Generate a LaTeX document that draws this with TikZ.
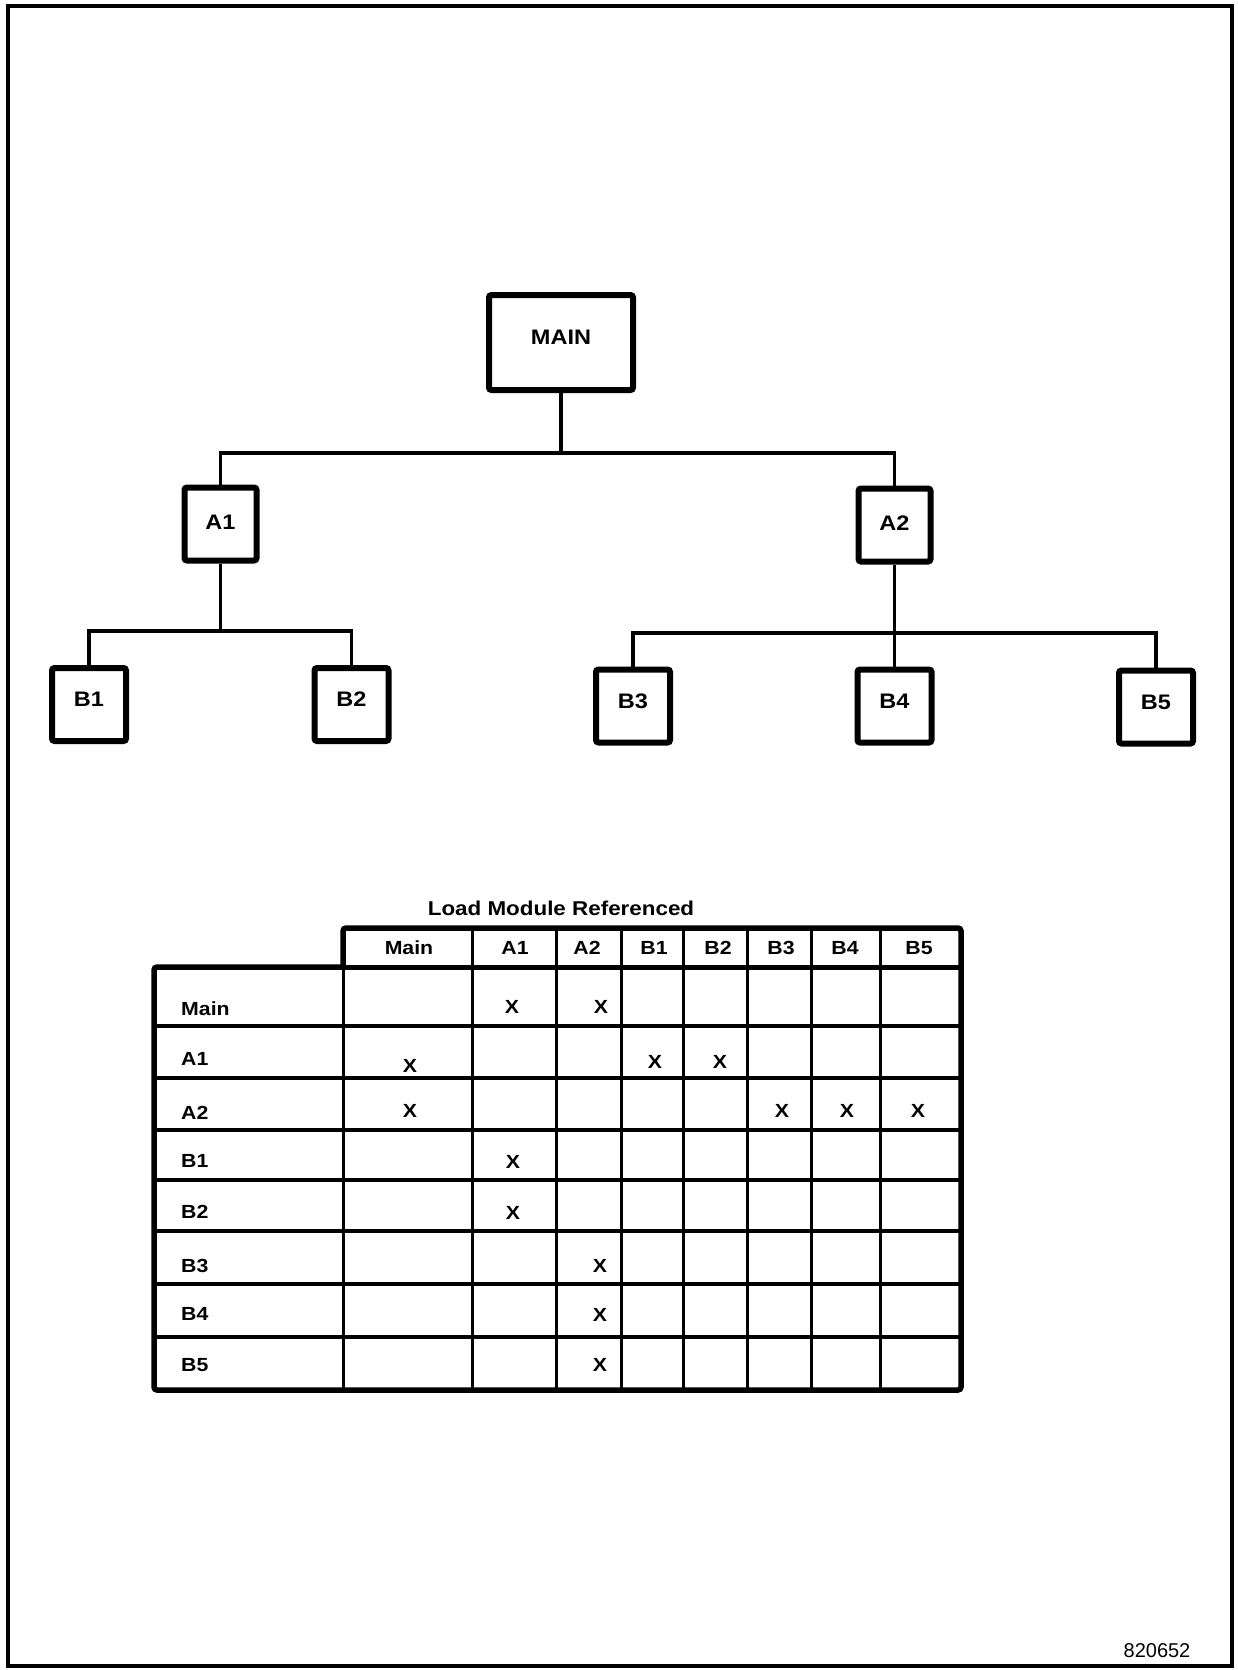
\documentclass[tikz,border=0pt]{standalone}
\usepackage{fontspec}
\setmainfont{Liberation Sans}
\newfontfamily\lblfont{Liberation Sans}[FakeStretch=1.12]
\begin{document}
\begin{tikzpicture}[x=1pt,y=-1pt,
  modbox/.style={draw, line width=6pt, rounded corners=2.5pt, inner sep=0pt,
    minimum width=72pt, minimum height=73pt, text depth=10pt,
    font=\lblfont\bfseries\fontsize{21}{21}\selectfont},
  midbox/.style={modbox, text depth=4pt},
  leafbox/.style={modbox, minimum width=74pt, minimum height=73pt},
  link/.style={line width=3.5pt},
  tcell/.style={inner sep=0pt, font=\lblfont\bfseries\fontsize{19}{19}\selectfont},
  outline/.style={line width=5.5pt, rounded corners=3pt},
  rowrule/.style={line width=4pt},
  colrule/.style={line width=3pt}]
\useasboundingbox (0,0) rectangle (1237,1670);

% page frame
\draw[line width=3.5pt] (8,6) rectangle (1232,1666);

% ---------- module tree ----------
\node[modbox, minimum width=144pt, minimum height=95pt] (MAIN) at (561,342.5) {MAIN};
\node[midbox] (A1) at (220.5,524) {A1};
\node[midbox] (A2) at (894.5,525) {A2};
\node[leafbox] (B1) at (89,704.5) {B1};
\node[leafbox] (B2) at (351.5,704.5) {B2};
\node[leafbox] (B3) at (633,706) {B3};
\node[leafbox] (B4) at (894.5,706) {B4};
\node[leafbox] (B5) at (1156,707) {B5};

\coordinate (j0) at (MAIN.south |- 0,453);
\coordinate (j1) at (A1.south |- 0,631);
\coordinate (j2) at (A2.south |- 0,633);

\draw[link] (MAIN.south) -- (j0);
\draw[link] (A1.north) |- (j0) -| (A2.north);
\draw[link] (A1.south) -- (j1);
\draw[link] (B1.north) |- (j1) -| (B2.north);
\draw[link] (A2.south) -- (B4.north);
\draw[link] (B3.north) |- (j2) -| (B5.north);

% ---------- reference table ----------
\node[tcell, font=\lblfont\bfseries\fontsize{20}{20}\selectfont] (title) at (561,908) {Load Module Referenced};

% row rules
\foreach \ry in {1026,1078,1130,1180,1231,1284,1337}
  \draw[rowrule] (154,\ry) -- (961,\ry);
% column rules
\draw[colrule] (343,967) -- (343,1390);
\foreach \cx in {472,556,621,683,747,811,880}
  \draw[colrule] (\cx,928) -- (\cx,1390);
% header bottom / body top
\draw[line width=5pt] (154,967) -- (961,967);
% outer outline
\draw[outline] (343,967) -- (343,928) -- (961,928) -- (961,1390) -- (154,1390) -- (154,967) -- (343,967);

% column headings
\foreach \lab/\px in {Main/409, A1/515, A2/587, B1/654, B2/718, B3/781, B4/845, B5/919}
  \node[tcell] (col\lab) at (\px,948) {\lab};
% row headings
\foreach \lab/\py in {Main/1009, A1/1059, A2/1113, B1/1161, B2/1212, B3/1266, B4/1314, B5/1365}
  \node[tcell, anchor=west] (row\lab) at (181,\py) {\lab};
% reference marks
\foreach \px/\py [count=\i] in {512/1007, 601/1007,
    410/1066, 655/1062, 720/1062,
    410/1111, 782/1111, 847/1111, 918/1111,
    513/1162, 513/1213, 600/1266, 600/1315, 600/1365}
  \node[tcell] (mark\i) at (\px,\py) {X};

% figure number
\node[inner sep=0pt, font=\fontsize{20}{20}\selectfont] (fignum) at (1157,1651) {820652};
\end{tikzpicture}
\end{document}
